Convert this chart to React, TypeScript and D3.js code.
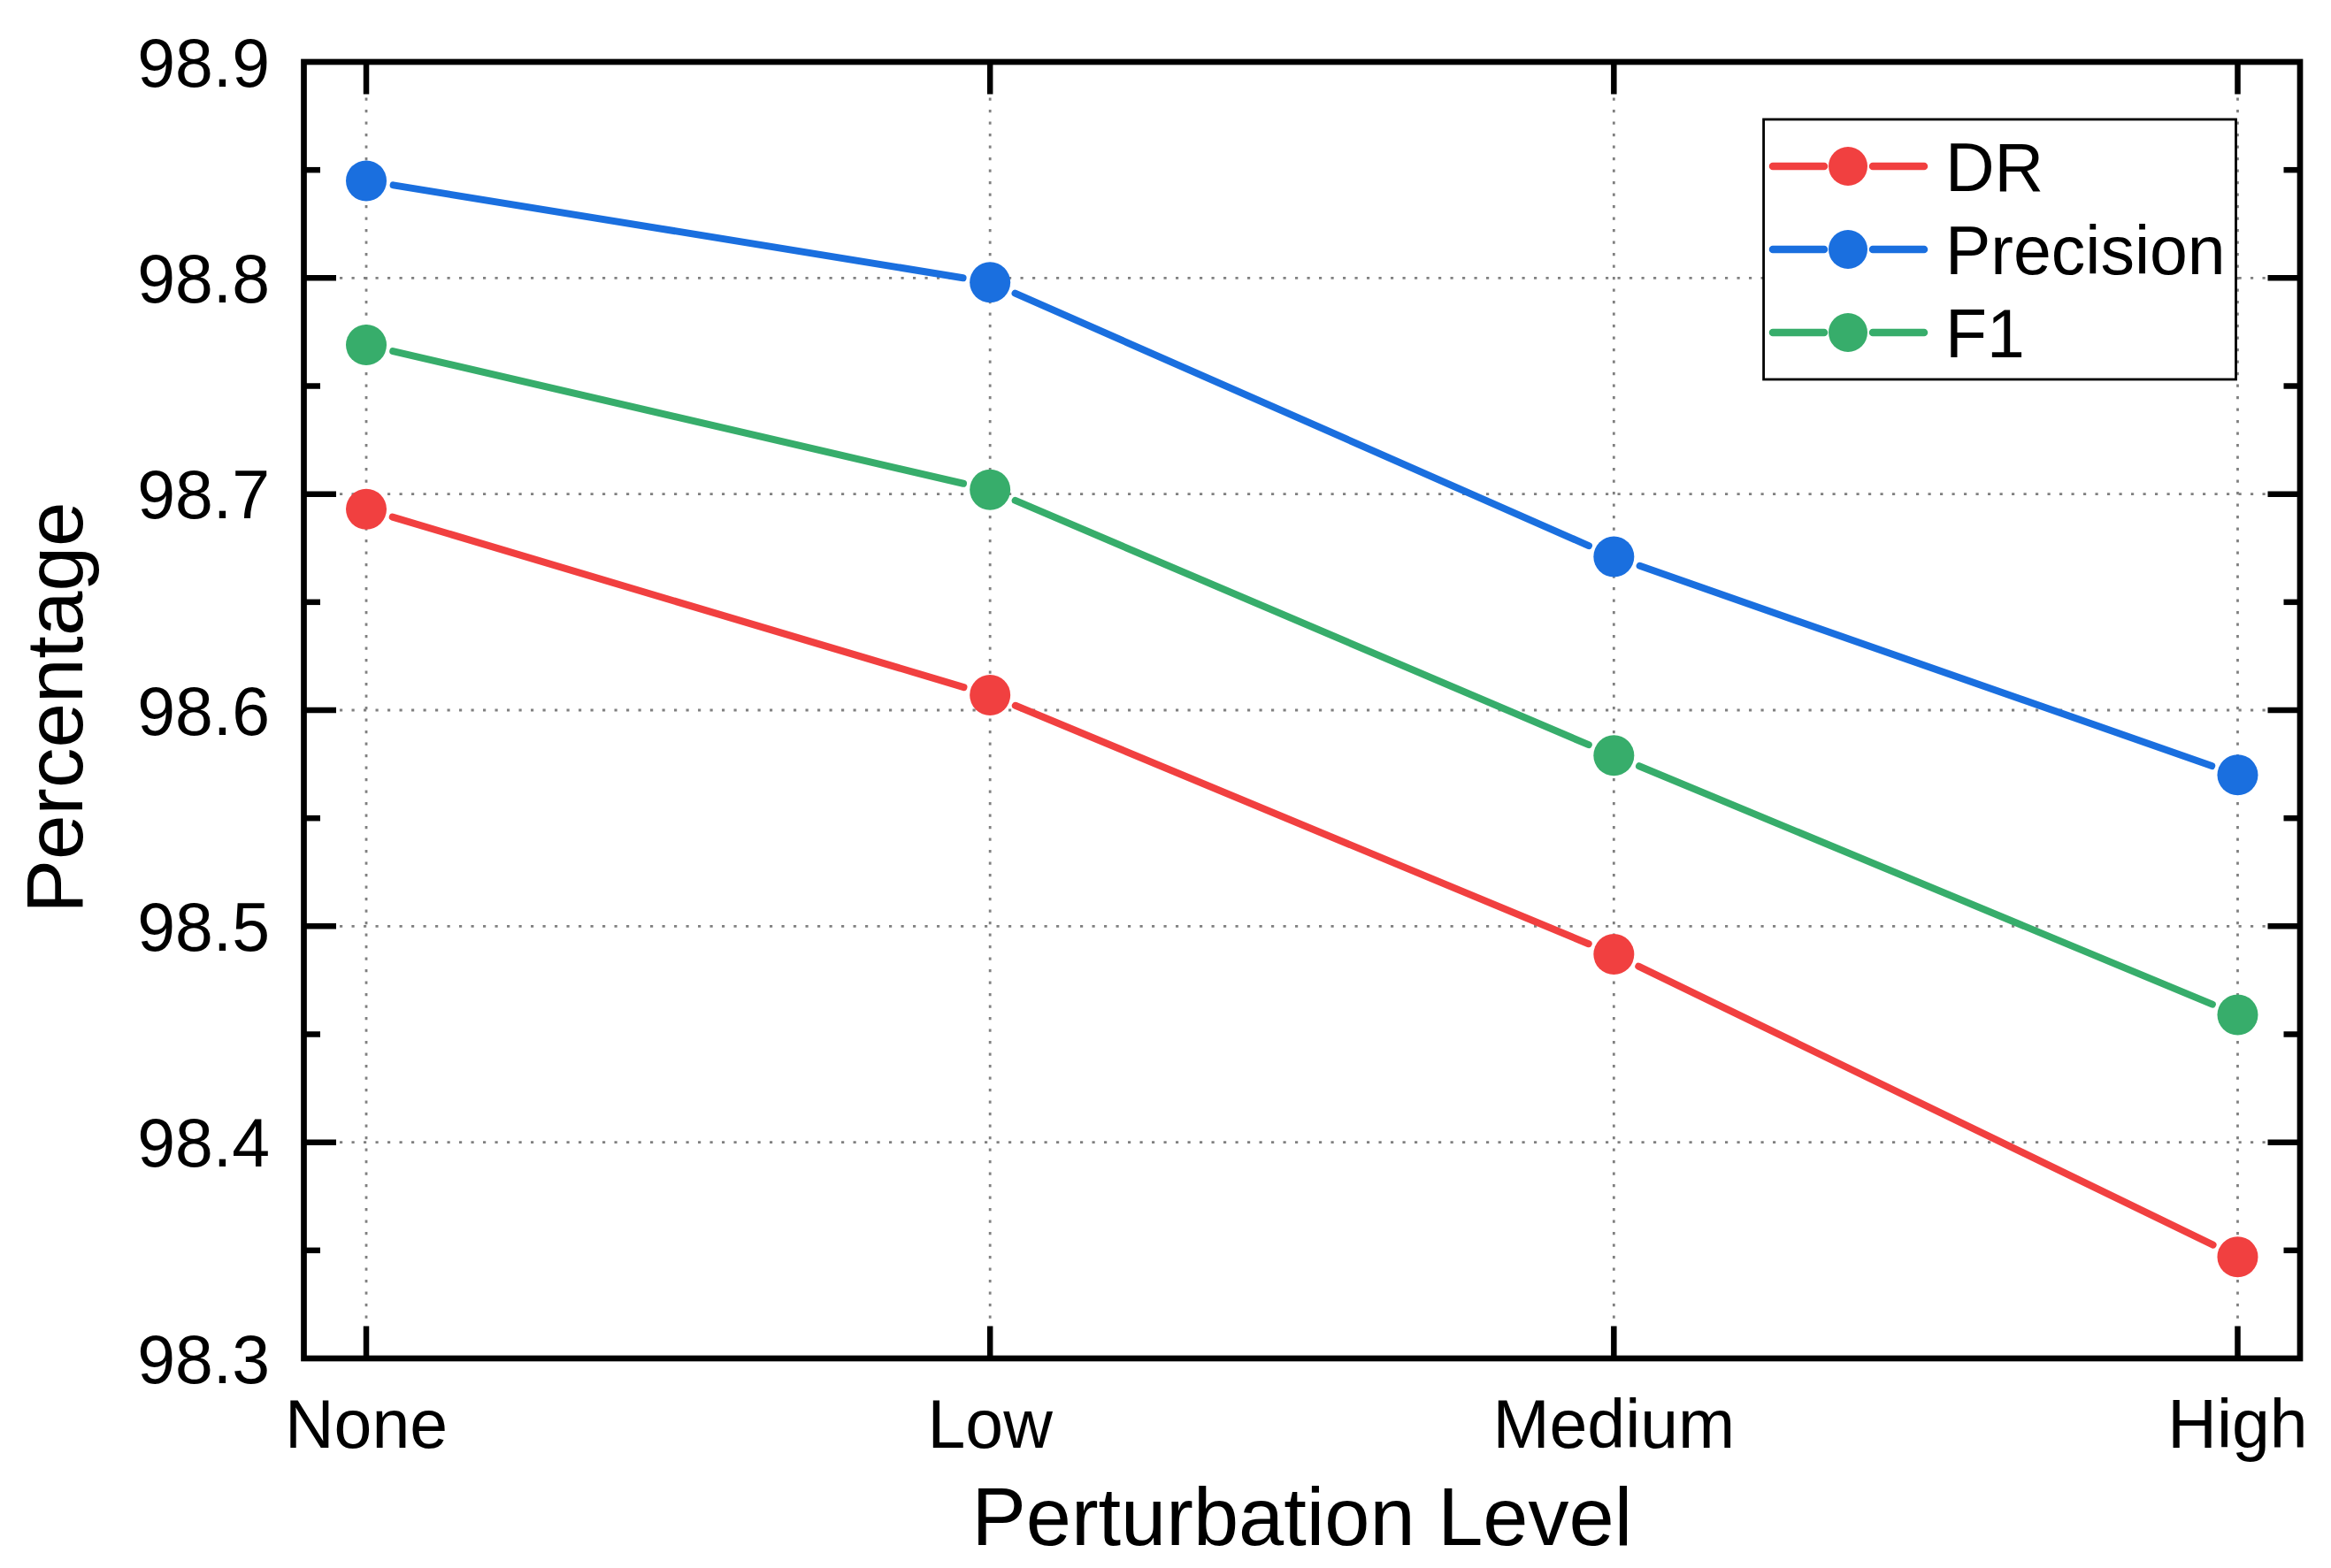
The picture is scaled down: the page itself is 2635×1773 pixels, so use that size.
import React from "react";
import * as d3 from "d3";

const levels = ["None", "Low", "Medium", "High"];
const drValues = [98.693, 98.607, 98.487, 98.347];
const precisionValues = [98.845, 98.798, 98.671, 98.57];
const f1Values = [98.769, 98.702, 98.579, 98.459];
const yTickValues = [98.3, 98.4, 98.5, 98.6, 98.7, 98.8, 98.9];
const yMinorValues = [98.35, 98.45, 98.55, 98.65, 98.75, 98.85];
const seriesNames = ["DR", "Precision", "F1"];
const seriesColors = ["#F14040", "#1A6FDF", "#37AD6B"];

const W = 2635;
const H = 1773;
const left = 343.5, right = 2600, top = 70, bottom = 1536;
const FONT = "'Liberation Sans', Arial, sans-serif";

const App = () => {
  const x = d3.scaleLinear().domain([-0.1, levels.length - 0.9]).range([left, right]);
  const y = d3.scaleLinear().domain([98.3, 98.9]).range([bottom, top]);
  const series = [drValues, precisionValues, f1Values];

  const markerR = 23;
  const gap = 31; // line stops short of each marker

  // shortened segments between consecutive points
  const segments = (vals: number[]) => {
    const out: { x1: number; y1: number; x2: number; y2: number }[] = [];
    for (let i = 0; i < vals.length - 1; i++) {
      const ax = x(i), ay = y(vals[i]);
      const bx = x(i + 1), by = y(vals[i + 1]);
      const len = Math.hypot(bx - ax, by - ay);
      const ux = (bx - ax) / len, uy = (by - ay) / len;
      out.push({ x1: ax + ux * gap, y1: ay + uy * gap, x2: bx - ux * gap, y2: by - uy * gap });
    }
    return out;
  };

  const gridStyle = { stroke: "#808080", strokeWidth: 2.8, strokeDasharray: "3.2 10.3" };
  const axisW = 6.7;
  const majorLen = 36.5, minorLen = 18.5;

  // legend geometry
  const lgX0 = 1993.6, lgY0 = 135, lgX1 = 2527.5, lgY1 = 429;
  const lgRows = [188, 282, 376];

  return (
    <svg width={W} height={H} style={{ position: "absolute", left: 0, top: 0, display: "block", background: "#fff" }}>
      <rect x={0} y={0} width={W} height={H} fill="#fff" />

      {/* grid */}
      <g>
        {yTickValues.slice(1, -1).map(v => (
          <line key={"gy" + v} x1={left} x2={right} y1={y(v)} y2={y(v)} {...gridStyle} />
        ))}
        {levels.map((l, i) => (
          <line key={"gx" + l} x1={x(i)} x2={x(i)} y1={top} y2={bottom} {...gridStyle} />
        ))}
      </g>

      {/* lines */}
      {series.map((vals, si) => (
        <g key={"s" + si}>
          {segments(vals).map((s, k) => (
            <line key={k} {...s} stroke={seriesColors[si]} strokeWidth={8} strokeLinecap="round" />
          ))}
        </g>
      ))}
      {/* markers */}
      {series.map((vals, si) => (
        <g key={"m" + si}>
          {vals.map((v, i) => (
            <circle key={i} cx={x(i)} cy={y(v)} r={markerR} fill={seriesColors[si]} />
          ))}
        </g>
      ))}

      {/* frame */}
      <rect x={left} y={top} width={right - left} height={bottom - top} fill="none" stroke="#000" strokeWidth={axisW} />

      {/* ticks */}
      <g stroke="#000" strokeWidth={6.5}>
        {yTickValues.slice(1, -1).map(v => (
          <g key={"ty" + v}>
            <line x1={left} x2={left + majorLen} y1={y(v)} y2={y(v)} />
            <line x1={right} x2={right - majorLen} y1={y(v)} y2={y(v)} />
          </g>
        ))}
        {yMinorValues.map(v => (
          <g key={"tm" + v}>
            <line x1={left} x2={left + minorLen} y1={y(v)} y2={y(v)} />
            <line x1={right} x2={right - minorLen} y1={y(v)} y2={y(v)} />
          </g>
        ))}
        {levels.map((l, i) => (
          <g key={"tx" + l}>
            <line x1={x(i)} x2={x(i)} y1={bottom} y2={bottom - majorLen} />
            <line x1={x(i)} x2={x(i)} y1={top} y2={top + majorLen} />
          </g>
        ))}
      </g>

      {/* tick labels */}
      <g fontFamily={FONT} fontSize={77} fill="#000">
        {yTickValues.map(v => (
          <text key={"ly" + v} x={305} y={y(v)} dy="0.36em" textAnchor="end">
            {d3.format(".1f")(v)}
          </text>
        ))}
        {levels.map((l, i) => (
          <text key={"lx" + l} x={x(i)} y={1637} textAnchor="middle">
            {l}
          </text>
        ))}
      </g>

      {/* axis titles */}
      <text x={(left + right) / 2} y={1747} textAnchor="middle" fontFamily={FONT} fontSize={92}>
        Perturbation Level
      </text>
      <text transform={`translate(93, ${(top + bottom) / 2 - 3}) rotate(-90)`} textAnchor="middle" fontFamily={FONT} fontSize={91}>
        Percentage
      </text>

      {/* legend */}
      <g>
        <rect x={lgX0} y={lgY0} width={lgX1 - lgX0} height={lgY1 - lgY0} fill="#fff" stroke="#000" strokeWidth={2.8} />
        {seriesNames.map((n, i) => (
          <g key={"lg" + n}>
            <line x1={2004} x2={2062} y1={lgRows[i]} y2={lgRows[i]} stroke={seriesColors[i]} strokeWidth={8.5} strokeLinecap="round" />
            <line x1={2117} x2={2175} y1={lgRows[i]} y2={lgRows[i]} stroke={seriesColors[i]} strokeWidth={8.5} strokeLinecap="round" />
            <circle cx={2089} cy={lgRows[i]} r={22} fill={seriesColors[i]} />
            <text x={2199} y={lgRows[i]} dy="0.36em" fontFamily={FONT} fontSize={77}>
              {n}
            </text>
          </g>
        ))}
      </g>
    </svg>
  );
};

export default App;
